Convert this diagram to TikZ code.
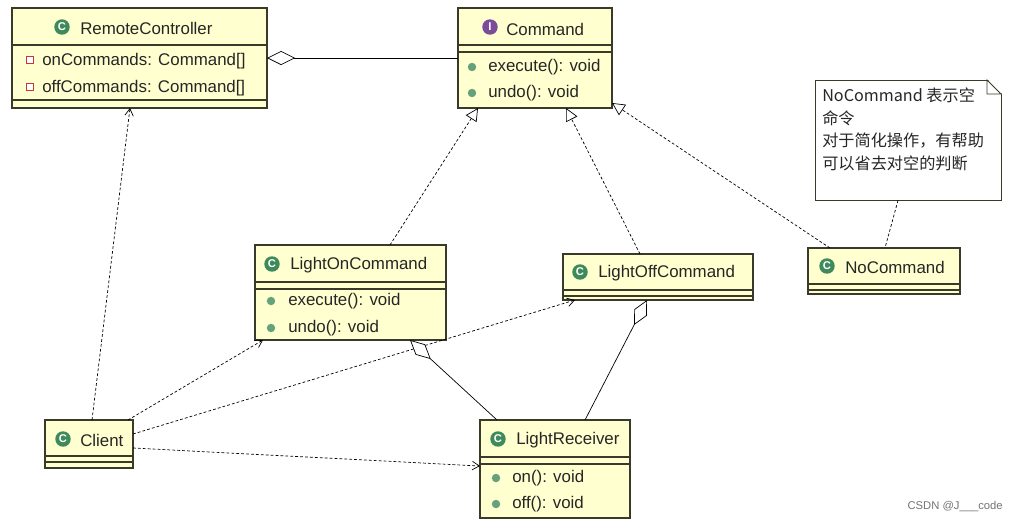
\documentclass[tikz,border=0pt]{standalone}
\usepackage{fontspec}
\setmainfont{Liberation Sans}
\newfontfamily\cjk{Noto Sans CJK SC}
\usetikzlibrary{arrows.meta}
\definecolor{boxfill}{HTML}{FFFFCF}
\definecolor{boxline}{HTML}{3A3A2A}
\definecolor{icong}{HTML}{3E8A5A}
\definecolor{iconp}{HTML}{7A4C9A}
\definecolor{fieldr}{HTML}{C83838}
\begin{document}
\begin{tikzpicture}[x=0.025cm,y=-0.025cm,
  box/.style={draw=boxline,fill=boxfill,line width=0.8pt,inner sep=0,outer sep=0},
  note/.style={draw=boxline,fill=white,line width=0.6pt},
  lbl/.style={anchor=west,inner sep=0,font=\fontsize{12}{14}\selectfont,text=black!85},
  cicon/.style={circle,fill=icong,inner sep=0,minimum size=11pt,text=white,font=\bfseries\fontsize{8}{8}\selectfont},
  iicon/.style={cicon,fill=iconp},
  mdot/.style={circle,fill=icong!80,inner sep=0,minimum size=6pt},
  fsq/.style={draw=fieldr,fill=white,inner sep=0,minimum size=4.5pt,line width=0.8pt},
  dep/.style={dashed,dash pattern=on 2pt off 1.5pt,line width=0.5pt,-{Straight Barb[length=5pt,width=6pt]}},
  real/.style={dashed,dash pattern=on 2pt off 1.5pt,line width=0.5pt,-{Triangle[open,length=9pt,width=9pt,fill=white]}},
  agg/.style={line width=0.5pt,{Diamond[open,length=20pt,width=10pt,fill=white]}-},
  sep/.style={draw=boxline,line width=0.8pt}]
\useasboundingbox (0,0) rectangle (1011,521);
% RemoteController
\node[box,minimum width=255*0.025cm,minimum height=100*0.025cm] (rc) at (139.5,58) {};
\draw[sep] (12,45)--(267,45) (12,100)--(267,100);
\node[cicon] (rci) at (62,27) {C};
\node[lbl] (rct) at (80,28) {RemoteController};
\node[fsq] (rf1) at (30,60) {}; \node[lbl] (rl1) at (42,61) {onCommands: Command[]};
\node[fsq] (rf2) at (30,87) {}; \node[lbl] (rl2) at (42,88) {offCommands: Command[]};
% Command
\node[box,minimum width=154*0.025cm,minimum height=100*0.025cm] (cmd) at (535,58) {};
\draw[sep] (458,45)--(612,45) (458,52)--(612,52);
\node[iicon] (cmi) at (490,27) {I};
\node[lbl] (cmt) at (506,29) {Command};
\node[mdot] (cd1) at (472,67) {}; \node[lbl] (cl1) at (488,67) {execute(): void};
\node[mdot] (cd2) at (472,93) {}; \node[lbl] (cl2) at (488,93) {undo(): void};
% Note
\node[note,minimum width=186*0.025cm,minimum height=120*0.025cm] (nt) at (908,140) {};
\fill[white] (987,79) -- (1002,79) -- (1002,94) -- cycle;
\draw[boxline,line width=0.6pt] (987,80) -- (987,94) -- (1001,94) -- cycle;
\node[lbl,anchor=north west,align=left,font=\cjk\fontsize{11.5}{16}\selectfont] (ntx) at (822,88) {NoCommand 表示空\\命令\\对于简化操作，有帮助\\可以省去对空的判断};
% LightOnCommand
\node[box,minimum width=191*0.025cm,minimum height=95*0.025cm] (lon) at (350.5,292.5) {};
\draw[sep] (255,282)--(446,282) (255,289)--(446,289);
\node[cicon] (loi) at (272,264) {C};
\node[lbl] (lot) at (290,265) {LightOnCommand};
\node[mdot] (ld1) at (271,301) {}; \node[lbl] (ll1) at (288,301) {execute(): void};
\node[mdot] (ld2) at (271,328) {}; \node[lbl] (ll2) at (288,328) {undo(): void};
% LightOffCommand
\node[box,minimum width=190*0.025cm,minimum height=46*0.025cm] (loff) at (658,277) {};
\draw[sep] (563,290)--(753,290) (563,296)--(753,296);
\node[cicon] (lfi) at (580,272) {C};
\node[lbl] (lft) at (598,273) {LightOffCommand};
% NoCommand
\node[box,minimum width=152*0.025cm,minimum height=46*0.025cm] (nc) at (884,271) {};
\draw[sep] (808,284)--(960,284) (808,290)--(960,290);
\node[cicon] (nci) at (827,266) {C};
\node[lbl] (nct) at (845,267) {NoCommand};
% Client
\node[box,minimum width=88*0.025cm,minimum height=48*0.025cm] (cl) at (89,444) {};
\draw[sep] (45,456)--(133,456) (45,462)--(133,462);
\node[cicon] (cli) at (63,439) {C};
\node[lbl] (clt) at (80,440) {Client};
% LightReceiver
\node[box,minimum width=150*0.025cm,minimum height=98*0.025cm] (lr) at (555,469) {};
\draw[sep] (480,457)--(630,457) (480,464)--(630,464);
\node[cicon] (lri) at (498,439) {C};
\node[lbl] (lrt) at (516,440) {LightReceiver};
\node[mdot] (rd1) at (496,478) {}; \node[lbl] (rr1) at (512,478) {on(): void};
\node[mdot] (rd2) at (496,504) {}; \node[lbl] (rr2) at (512,504) {off(): void};
% watermark
\node[anchor=east,inner sep=0,font=\fontsize{8}{9}\selectfont,text=black!55] (wm) at (1003,507) {CSDN @J\_\_\_code};
% connectors
\draw[agg] (rc.east |- 0,58) -- (cmd.west |- 0,58);
\draw[real] (lon.north -| 390,0) -- (cmd.south -| 478,0);
\draw[real] (loff.north -| 640,0) -- (cmd.south -| 566,0);
\draw[real] (nc.north -| 830,0) -- (612,103);
\draw[dashed,dash pattern=on 2pt off 1.5pt,line width=0.5pt] (nt.south -| 898,0) -- (nc.north -| 885,0);
\draw[dep] (cl.north -| 92,0) -- (rc.south -| 130,0);
\draw[dep] (cl.north -| 128,0) -- (lon.south -| 263,0);
\draw[dep] (cl.east |- 0,434) -- (loff.south -| 575,0);
\draw[dep] (cl.east |- 0,448) -- (lr.west |- 0,466);
\draw[agg] (lon.south -| 410,0) -- (lr.north -| 497,0);
\draw[agg] (loff.south -| 647,0) -- (lr.north -| 585,0);
\end{tikzpicture}
\end{document}
